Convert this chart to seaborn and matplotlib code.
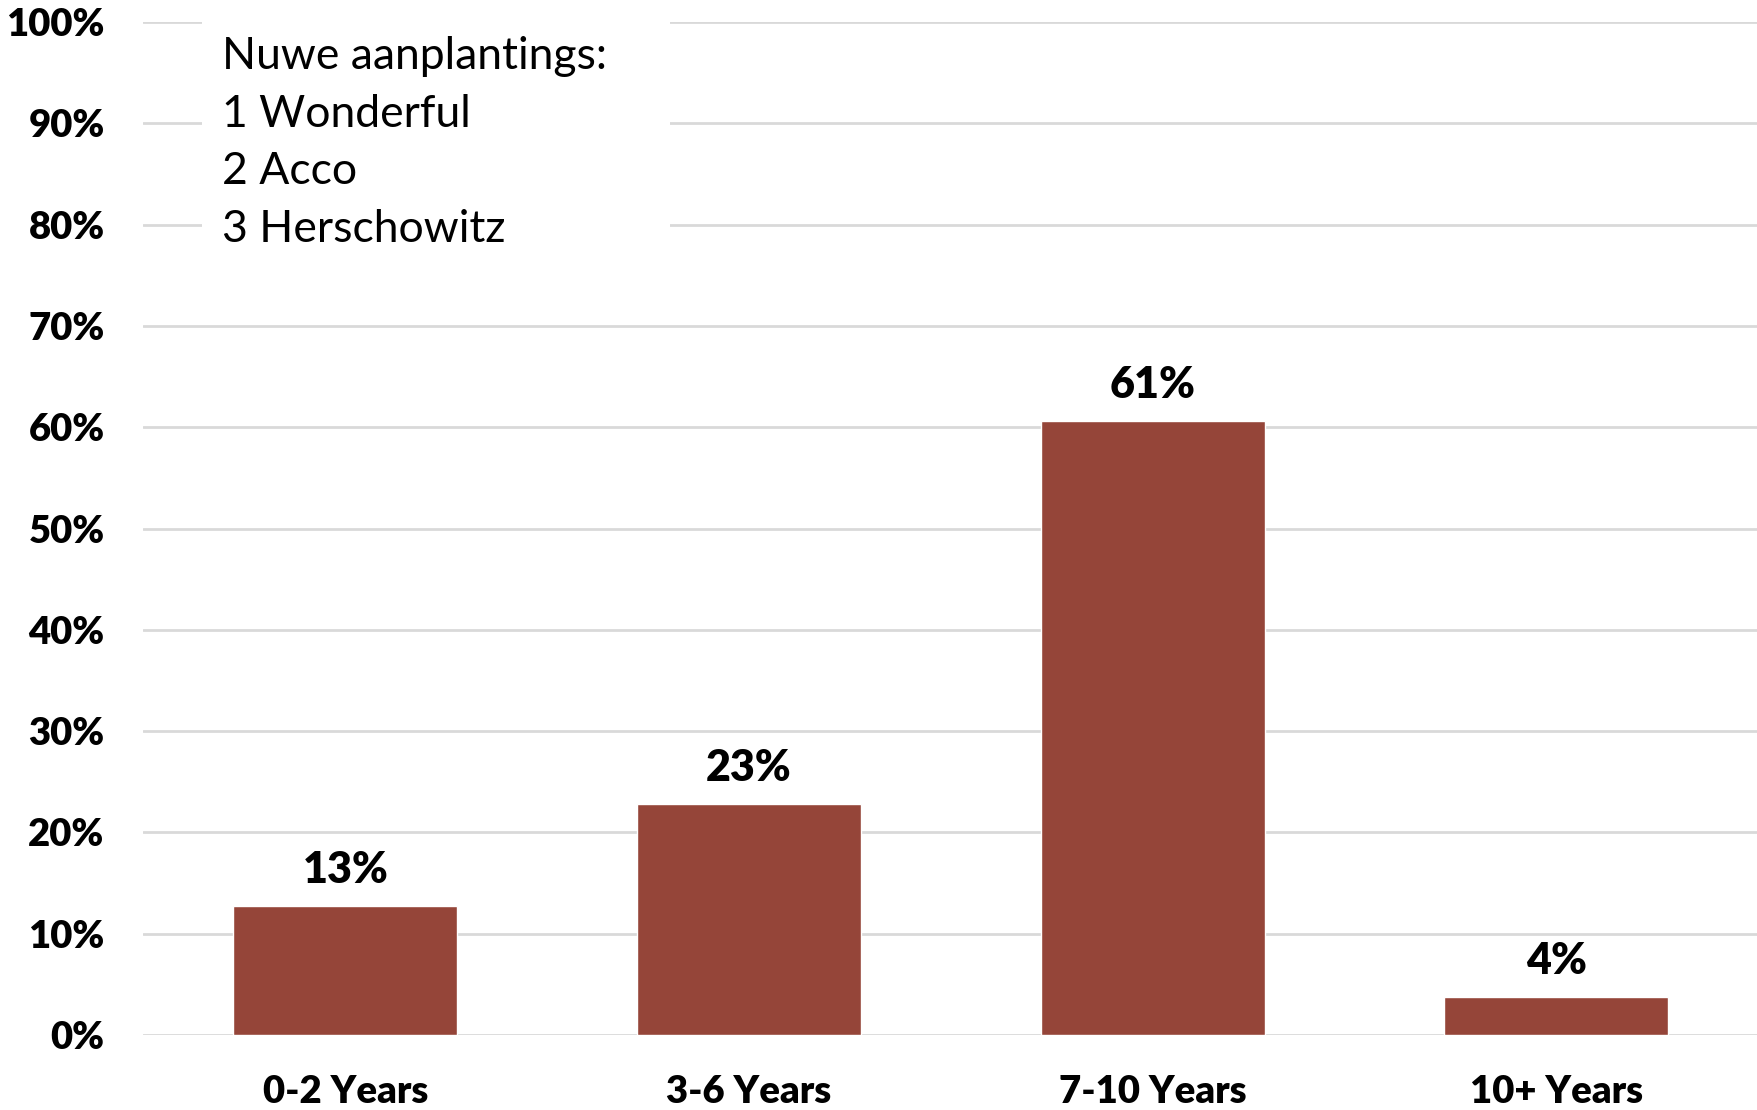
import matplotlib
matplotlib.use("Agg")
import matplotlib.pyplot as plt
import matplotlib.patches as mpatches
import seaborn as sns
import pandas as pd

# chart data
categories = ['0-2 Years', '3-6 Years', '7-10 Years', '10+ Years']
shares = [12.7, 22.8, 60.6, 3.7]
labels = ['13%', '23%', '61%', '4%']
yticks = [0, 10, 20, 30, 40, 50, 60, 70, 80, 90, 100]
note_lines = ['Nuwe aanplantings:', '1 Wonderful', '2 Acco', '3 Herschowitz']

sns.set_style('white')
plt.rcParams['font.family'] = ['Lato', 'DejaVu Sans']
plt.rcParams['text.color'] = 'black'
plt.rcParams['xtick.color'] = 'black'
plt.rcParams['ytick.color'] = 'black'

df = pd.DataFrame({'Age': categories, 'Share': shares})

fig = plt.figure(figsize=(17.58, 11.10), dpi=100)
ax = fig.add_axes([0.0816, 0.0676, 0.9184, 0.9124])

sns.barplot(data=df, x='Age', y='Share', color='#954539', saturation=1,
            width=0.555, ax=ax, zorder=3)

for i, (v, lab) in enumerate(zip(shares, labels)):
    ax.text(i, v + 1.6, lab, ha='center', va='bottom', fontsize=31,
            fontweight='heavy', color='black', zorder=4)

ax.set_ylim(0, 100)
ax.set_xlim(-0.5, 3.5)
ax.set_yticks(yticks)
ax.set_yticklabels([f'{t}%' for t in yticks])
ax.yaxis.grid(True, color='#d9d9d9', linewidth=2, zorder=0)
ax.set_axisbelow(True)
for s in ax.spines.values():
    s.set_visible(False)
ax.tick_params(axis='y', length=0, pad=28, labelsize=27.5, labelcolor='black')
ax.tick_params(axis='x', length=0, pad=29, labelsize=27.5, labelcolor='black')
for t in ax.get_xticklabels() + ax.get_yticklabels():
    t.set_fontweight('heavy')
ax.set_xlabel('')
ax.set_ylabel('')

# white panel behind the note, hiding the gridlines
ax.add_patch(mpatches.Rectangle((0.0361, 0.7565), 0.2903, 0.26,
                                transform=ax.transAxes, facecolor='white',
                                edgecolor='none', zorder=2, clip_on=False))
ax.text(0.0486, 0.986, '\n'.join(note_lines), transform=ax.transAxes,
        ha='left', va='top', fontsize=32, linespacing=1.5, zorder=5,
        color='black')

fig.savefig('out.png', dpi=100)
